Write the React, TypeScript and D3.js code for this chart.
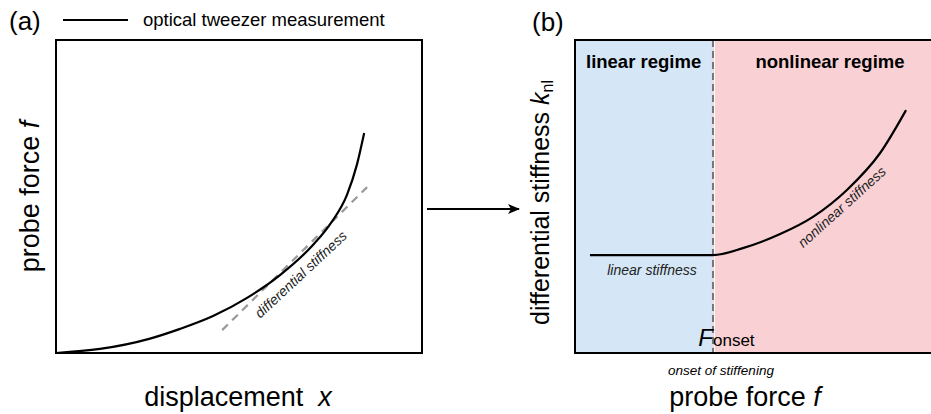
import React from 'react';
import * as d3 from 'd3';

// panel (a): probe force vs displacement (arbitrary units)
const dispX = [0, 1.2, 2.57, 3.39, 4.29, 5.22, 6.12, 7.02, 7.49, 7.95, 8.22, 8.42];
const forceY = [0, 0.13, 0.46, 0.77, 1.18, 1.76, 2.49, 3.45, 4.12, 5.05, 6.01, 7.03];
// tangent (differential stiffness) endpoints
const tangentX = [4.54, 8.5];
const tangentY = [0.73, 5.3];

// panel (b): differential stiffness vs probe force
const forceX = [0.41, 2.19, 3.78, 4.6, 5.62, 6.52, 7.45, 8.36, 9.07];
const stiffY = [3.13, 3.13, 3.13, 3.35, 3.8, 4.35, 5.21, 6.39, 7.76];
const onsetForce = 3.78;

const FONT = "Arial, 'Liberation Sans', sans-serif";

export default function App() {
  // panel a scales
  const xa = d3.scaleLinear().domain([0, 10]).range([56, 422]);
  const ya = d3.scaleLinear().domain([0, 10]).range([353, 40]);
  // panel b scales
  const xb = d3.scaleLinear().domain([0, 10]).range([575, 940]);
  const yb = d3.scaleLinear().domain([0, 10]).range([353, 40]);

  const curveA = d3.line<number>()
    .curve(d3.curveMonotoneX)
    .x(d => xa(dispX[d]))
    .y(d => ya(forceY[d]))(d3.range(dispX.length)) || '';

  const curveB = d3.line<number>()
    .curve(d3.curveMonotoneX)
    .x(d => xb(forceX[d]))
    .y(d => yb(stiffY[d]))(d3.range(forceX.length)) || '';

  const xo = xb(onsetForce);

  return (
    <svg width={931} height={414} style={{ position: 'absolute', left: 0, top: 0, background: '#fff' }}
      fontFamily={FONT}>
      <defs>
        <marker id="arrow" viewBox="0 0 12 10" refX="11" refY="5" markerWidth="12" markerHeight="10"
          markerUnits="userSpaceOnUse" orient="auto">
          <path d="M0,0 L12,5 L0,10 L3,5 Z" fill="#000" />
        </marker>
      </defs>

      {/* panel (a) */}
      <text x={9} y={30} fontSize={26}>(a)</text>
      <line x1={63} x2={128} y1={20} y2={20} stroke="#000" strokeWidth={2} />
      <text x={143} y={26} fontSize={18.5}>optical tweezer measurement</text>
      <rect x={xa(0)} y={ya(10)} width={xa(10) - xa(0)} height={ya(0) - ya(10)}
        fill="none" stroke="#000" strokeWidth={2} />
      <line x1={xa(tangentX[0])} y1={ya(tangentY[0])} x2={xa(tangentX[1])} y2={ya(tangentY[1])}
        stroke="#999" strokeWidth={2.2} strokeDasharray="8,6" />
      <path d={curveA} fill="none" stroke="#000" strokeWidth={2.2} />
      <text transform={`translate(${xa(6.78)},${ya(2.4)}) rotate(-43)`} fontSize={14}
        fontStyle="italic" textAnchor="middle" fill="#222">differential stiffness</text>
      <text transform={`translate(39,${(ya(0) + ya(10)) / 2}) rotate(-90)`} fontSize={27}
        textAnchor="middle">probe force <tspan fontStyle="italic">f</tspan></text>
      <text x={238} y={406} fontSize={27} textAnchor="middle" xmlSpace="preserve">
        displacement  <tspan fontStyle="italic">x</tspan></text>

      {/* arrow */}
      <line x1={427} x2={519} y1={209} y2={209} stroke="#000" strokeWidth={2} markerEnd="url(#arrow)" />

      {/* panel (b) */}
      <text x={532} y={31} fontSize={26}>(b)</text>
      <rect x={xb(0)} y={yb(10)} width={xo - xb(0)} height={yb(0) - yb(10)} fill="#d5e6f6" />
      <rect x={xo} y={yb(10)} width={xb(10) - xo} height={yb(0) - yb(10)} fill="#f9d0d3" />
      <line x1={xo + 1.5} x2={xo + 1.5} y1={yb(10)} y2={yb(0)} stroke="#fff" strokeWidth={1} />
      <line x1={xo} x2={xo} y1={yb(10)} y2={yb(0)} stroke="#777" strokeWidth={2} strokeDasharray="7,4" />
      <rect x={xb(0)} y={yb(10)} width={xb(10) - xb(0)} height={yb(0) - yb(10)}
        fill="none" stroke="#000" strokeWidth={2} />
      <path d={curveB} fill="none" stroke="#000" strokeWidth={2.2} />
      <text x={586} y={68} fontSize={18.5} fontWeight="bold">linear regime</text>
      <text x={830} y={68} fontSize={18.5} fontWeight="bold" textAnchor="middle">nonlinear regime</text>
      <text x={652} y={275} fontSize={14} fontStyle="italic" textAnchor="middle" fill="#222">linear stiffness</text>
      <text transform={`translate(${xb(7.4)},${yb(4.55)}) rotate(-42)`} fontSize={14}
        fontStyle="italic" textAnchor="middle" fill="#222">nonlinear stiffness</text>
      <text x={xo} y={346} fontSize={24} fontStyle="italic" textAnchor="end">F</text>
      <text x={xo} y={346} fontSize={17}>onset</text>
      <text x={721} y={375} fontSize={13.5} fontStyle="italic" textAnchor="middle">onset of stiffening</text>
      <text x={745} y={406} fontSize={27} textAnchor="middle">probe force <tspan fontStyle="italic">f</tspan></text>
      <text transform={`translate(549,${(yb(0) + yb(10)) / 2 + 6}) rotate(-90)`} fontSize={25}
        textAnchor="middle">differential stiffness <tspan fontStyle="italic">k</tspan>
        <tspan fontSize={16} dy={4}>nl</tspan></text>
    </svg>
  );
}
